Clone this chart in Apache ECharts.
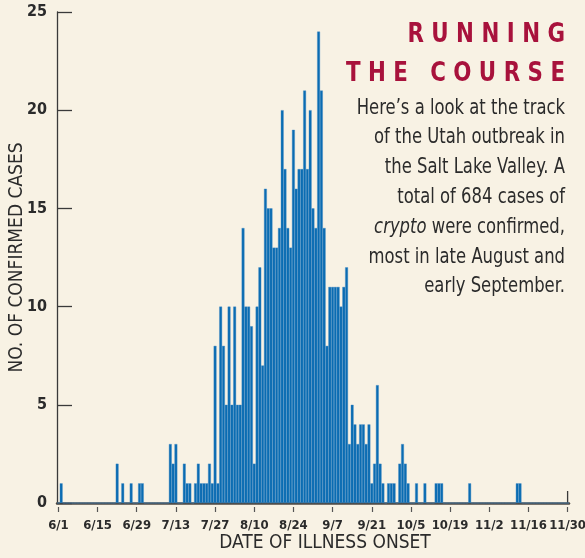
<!DOCTYPE html>
<html>
<head>
<meta charset="utf-8">
<script src="https://cdn.jsdelivr.net/npm/echarts@6/dist/echarts.min.js"></script>
</head>
<body style="margin:0;background:#f8f2e4">
<div id="container" style="width:585px;height:558px"></div>
<script>
// daily confirmed cases
var june = [0,1,0,0,0,0,0,0,0,0, 0,0,0,0,0,0,0,0,0,0, 0,2,0,1,0,0,1,0,0,1];
var july = [1,0,0,0,0,0,0,0,0,0, 3,2,3,0,0,2,1,1,0,1, 2,1,1,1,2,1,8,1,10,8, 5];
var august = [10,5,10,5,5,14,10,10,9,2, 10,12,7,16,15,15,13,13,14,20, 17,14,13,19,16,17,17,21,17,20, 15];
var september = [14,24,21,14,8,11,11,11,11,10, 11,12,3,5,4,3,4,4,3,4, 1,2,6,2,1,0,1,1,1,0];
var october = [2,3,2,1,0,0,1,0,0,1, 0,0,0,1,1,1,0,0,0,0, 0,0,0,0,0,1,0,0,0,0, 0];
var november = [0,0,0,0,0,0,0,0,0,0, 0,1,1,0,0,0,0,0,0,0, 0,0,0,0,0,0,0,0,0,0];
var months = [[6, 30], [7, 31], [8, 31], [9, 30], [10, 31], [11, 30]];
var yTicks = [0, 5, 10, 15, 20, 25];

var cases = june.concat(july, august, september, october, november);
var dates = [];
months.forEach(function (m) {
    for (var d = 1; d <= m[1]; d++) dates.push(m[0] + '/' + d);
});

var NARROW = "'Liberation Sans Narrow', 'DejaVu Sans Condensed', 'Noto Sans', sans-serif";
var every14 = function (i) { return i % 14 === 0; };

var chart = echarts.init(document.getElementById('container'));
var option = {
    backgroundColor: '#f8f2e4',
    animation: false,
    grid: {left: 57, right: 16, top: 12, bottom: 55, containLabel: false, outerBoundsMode: 'none'},
    xAxis: [{
        type: 'category',
        data: dates,
        boundaryGap: true,
        axisLine: {lineStyle: {color: '#4d4842', width: 2.5}},
        axisTick: {show: false},
        axisLabel: {show: false},
        name: 'DATE OF ILLNESS ONSET',
        nameLocation: 'middle',
        nameGap: 31,
        nameMoveOverlap: false,
        nameTextStyle: {fontFamily: NARROW, fontSize: 19, color: '#2b2b2b', padding: [0, 0, 0, 24]}
    }, {
        type: 'category',
        data: dates,
        position: 'bottom',
        offset: 4,
        boundaryGap: true,
        axisLine: {show: false},
        axisTick: {show: true, interval: every14, alignWithLabel: true, length: 5,
            lineStyle: {color: '#555', width: 1.2}},
        axisLabel: {interval: every14, showMaxLabel: true, margin: 12, fontFamily: NARROW,
            fontWeight: 'bold', fontSize: 13, color: '#2b2b2b'}
    }],
    yAxis: {
        type: 'value',
        min: 0,
        max: 25,
        interval: 5,
        axisLine: {show: true, lineStyle: {color: '#3a3a3a', width: 1.3}},
        axisTick: {show: true, inside: true, length: 15, lineStyle: {color: '#3a3a3a', width: 1.3}},
        axisLabel: {margin: 10, fontFamily: NARROW, fontWeight: 'bold', fontSize: 16, color: '#2b2b2b',
            formatter: function (v) { return yTicks.indexOf(v) >= 0 ? String(v) : ''; }},
        splitLine: {show: false},
        name: 'NO. OF CONFIRMED CASES',
        nameLocation: 'middle',
        nameRotate: 90,
        nameGap: 30,
        nameMoveOverlap: false,
        nameTextStyle: {fontFamily: NARROW, fontSize: 19, color: '#2b2b2b'}
    },
    series: [{
        type: 'bar',
        data: cases,
        barCategoryGap: '0%',
        itemStyle: {color: '#0a6cb2', borderColor: '#3f88c4', borderWidth: 0.4}
    }],
    graphic: [{
        type: 'text',
        x: 565,
        y: 15,
        scaleX: 0.88,
        style: {
            text: 'R U N N I N G\nT H E   C O U R S E',
            align: 'right',
            verticalAlign: 'top',
            fontFamily: NARROW,
            fontWeight: 'bold',
            fontSize: 27,
            lineHeight: 39,
            fill: '#a8123c'
        }
    }, {
        type: 'text',
        x: 565,
        y: 93,
        scaleX: 0.83,
        style: {
            text: 'Here\u2019s a look at the track\nof the Utah outbreak in\nthe Salt Lake Valley. A\ntotal of 684 cases of\n{i|crypto} were confirmed,\nmost in late August and\nearly September.',
            align: 'right',
            verticalAlign: 'top',
            fontFamily: NARROW,
            fontSize: 22,
            lineHeight: 29.8,
            fill: '#2b2b2b',
            rich: {
                i: {fontFamily: NARROW, fontStyle: 'italic', fontSize: 22, lineHeight: 29.8, fill: '#2b2b2b'}
            }
        }
    }]
};
chart.setOption(option);

// small upright tick closing the date axis at 11/30
var end = chart.convertToPixel({xAxisIndex: 0, yAxisIndex: 0}, [dates[dates.length - 1], 0]);
chart.setOption({
    graphic: option.graphic.concat([{
        type: 'line',
        shape: {x1: end[0], y1: end[1], x2: end[0], y2: end[1] - 12},
        style: {stroke: '#3a3a3a', lineWidth: 1.3}
    }])
});
</script>
</body>
</html>
